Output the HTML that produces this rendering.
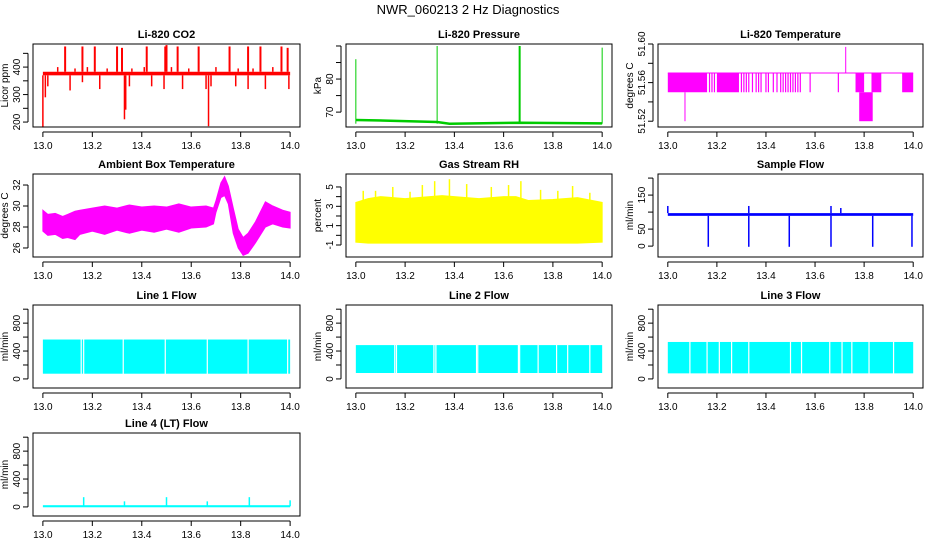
<!DOCTYPE html>
<html><head><meta charset="utf-8"><style>
body{margin:0;background:#fff}
svg{display:block;font-family:"Liberation Sans",sans-serif}
</style></head><body>
<svg id="c" width="936" height="540" viewBox="0 0 936 540">
<text x="468" y="14" font-size="13" text-anchor="middle">NWR_060213  2 Hz Diagnostics</text>
</svg>
<script>
// ---- data ----
const xTicks=[13.0,13.2,13.4,13.6,13.8,14.0];
const xTickLabels=["13.0","13.2","13.4","13.6","13.8","14.0"];
// CO2
const co2Base=[370,383];
const co2UpX=[13.09,13.16,13.21,13.30,13.32,13.42,13.495,13.50,13.545,13.63,13.755,13.83,13.88,13.965,13.99];
const co2UpY=[475,475,475,475,470,475,475,480,475,475,475,475,475,475,470];
const co2SmX=[13.06,13.13,13.18,13.26,13.36,13.41,13.52,13.59,13.7,13.79,13.85,13.93];
const co2SmY=[400,395,400,395,395,400,400,395,400,395,395,400];
const co2DnX=[13.0,13.01,13.02,13.11,13.16,13.23,13.33,13.335,13.35,13.44,13.49,13.565,13.66,13.67,13.68,13.78,13.83,13.9,13.995];
const co2DnY=[180,290,330,315,345,320,210,245,330,330,320,320,320,185,330,330,320,320,320];
// Pressure
const presX=[13.0,13.33,13.665,14.0];
const presTop=[86,90,90,89.5];
const presBaseX=[13.0,13.14,13.33,13.38,13.665,14.0];
const presBaseY=[67.6,67.4,67.0,66.5,66.8,66.6];
// Li-820 temperature
const tempHi=51.57, tempLo=51.55;
const tempBlocks=[[13.0,13.16],[13.2,13.29],[13.765,13.80],[13.83,13.87],[13.955,14.0]];
const tempLines=[13.17,13.18,13.19,13.30,13.31,13.32,13.33,13.345,13.36,13.37,13.38,13.40,13.41,13.43,13.445,13.46,13.47,13.48,13.49,13.50,13.51,13.52,13.53,13.54,13.58,13.695];
const tempDeep=[13.78,13.835,51.52];
const tempSpikes=[[13.07,51.55,51.52],[13.725,51.57,51.597]];
// Ambient box temperature (band)
const ambX=[13.0,13.02,13.05,13.08,13.1,13.13,13.15,13.2,13.25,13.3,13.35,13.4,13.45,13.5,13.55,13.6,13.66,13.69,13.70,13.72,13.735,13.75,13.77,13.79,13.81,13.83,13.86,13.9,13.93,13.97,14.0];
const ambLo=[27.6,27.2,27.3,26.9,27.0,26.8,27.3,27.6,27.3,27.7,27.4,27.7,27.5,27.8,27.5,27.9,28.0,28.3,29.4,30.8,31.0,30.2,27.4,26.0,25.3,25.5,26.5,28.0,28.3,28.0,27.9];
const ambHi=[29.6,29.2,29.3,29.0,29.2,29.5,29.6,29.8,30.0,29.8,30.1,29.9,30.0,29.9,30.2,29.9,30.0,29.8,30.5,32.2,32.8,31.9,29.8,27.8,27.0,27.4,28.5,30.4,30.0,29.6,29.4];
// Gas stream RH
const rhX=[13.0,13.05,13.1,13.2,13.3,13.35,13.4,13.5,13.6,13.65,13.7,13.8,13.9,14.0];
const rhLo=[-0.7,-0.8,-0.8,-0.8,-0.8,-0.8,-0.8,-0.8,-0.8,-0.8,-0.8,-0.8,-0.8,-0.7];
const rhHi=[3.4,3.8,4.0,3.8,4.0,4.1,4.0,3.8,4.0,4.0,3.6,3.7,3.9,3.4];
const rhSpX=[13.03,13.08,13.15,13.22,13.27,13.32,13.38,13.45,13.55,13.62,13.67,13.75,13.82,13.88,13.95];
const rhSpY=[4.6,4.6,5.0,4.5,5.2,5.6,5.8,5.3,5.0,5.2,5.6,4.7,4.6,5.1,4.4];
// Sample flow
const sfBase=[89,97];
const sfDipX=[13.165,13.33,13.495,13.665,13.835,13.995];
const sfDipY=[-2,-2,-2,-2,-2,-2];
const sfUpX=[13.0,13.33,13.665,13.705];
const sfUpY=[118,118,118,112];
// Line flows
const l1Band=[75,565], l2Band=[85,485], l3Band=[80,530];
const l1Gaps=[13.155,13.165,13.325,13.495,13.665,13.83,13.99];
const l2Gaps=[13.158,13.165,13.317,13.325,13.49,13.495,13.66,13.665,13.74,13.815,13.86,13.95];
const l3Gaps=[13.09,13.16,13.21,13.26,13.33,13.5,13.545,13.66,13.71,13.75,13.82,13.92];
const l4Base=10;
const l4SpX=[13.165,13.33,13.5,13.665,13.835,14.0];
const l4SpY=[140,80,140,80,140,95];

const S=document.getElementById('c');
const NS='http://www.w3.org/2000/svg';
function mk(t,a,p){const e=document.createElementNS(NS,t);for(const k in a)e.setAttribute(k,a[k]);(p||S).appendChild(e);return e;}
const cols=[[33,300],[346,612],[658,923]];
const rows=[[44,127],[174,257],[305,388],[433,516]];
function panel(c,r,title,ylab,ylim,yt,ytl,name){
  const [L,R]=cols[c],[T,B]=rows[r];
  const g=mk('g',{});
  
  
  const x0=L+(R-L)*0.037,x1=R-(R-L)*0.037;
  const X=v=>x0+(v-13)*(x1-x0);
  const Y=v=>B-(v-ylim[0])/(ylim[1]-ylim[0])*(B-T);
  const t=mk('text',{x:(L+R)/2,y:T-6,'font-size':11,'font-weight':'bold','text-anchor':'middle'},g);t.textContent=title;
  
  const plot=mk('g',{},g);
  
  const ax=mk('g',{},g);
  
  mk('rect',{x:L,y:T,width:R-L,height:B-T,fill:'none',stroke:'#000','stroke-width':1},ax);
  mk('line',{x1:X(13),x2:X(14),y1:B+5,y2:B+5,stroke:'#000'},ax);
  xTicks.forEach((v,i)=>{mk('line',{x1:X(v),x2:X(v),y1:B+5,y2:B+10,stroke:'#000'},ax);
    const tt=mk('text',{x:X(v),y:B+22,'font-size':10,'text-anchor':'middle'},ax);tt.textContent=xTickLabels[i];});
  mk('line',{x1:L-5,x2:L-5,y1:Y(yt[0]),y2:Y(yt[yt.length-1]),stroke:'#000'},ax);
  yt.forEach((v,i)=>{mk('line',{x1:L-5,x2:L-10,y1:Y(v),y2:Y(v),stroke:'#000'},ax);
    if(ytl[i]){const tt=mk('text',{x:0,y:0,'font-size':10,'text-anchor':'middle',transform:`translate(${L-13},${Y(v)}) rotate(-90)`},ax);tt.textContent=ytl[i];}});
  const yl=mk('text',{x:0,y:0,'font-size':10,'text-anchor':'middle',transform:`translate(${L-25},${(T+B)/2}) rotate(-90)`},ax);yl.textContent=ylab;
  
  return {X,Y,g:plot};
}
function seg(p,x,a,b,col,w){mk('line',{x1:p.X(x),x2:p.X(x),y1:p.Y(a),y2:p.Y(b),stroke:col,'stroke-width':w||1},p.g);}
function band(p,xs,lo,hi,col){let d='';xs.forEach((x,i)=>d+=(i?'L':'M')+p.X(x)+' '+p.Y(hi[i]));for(let i=xs.length-1;i>=0;i--)d+='L'+p.X(xs[i])+' '+p.Y(lo[i]);mk('path',{d:d+'Z',fill:col,stroke:col},p.g);}
function rect(p,xa,xb,ya,yb,col){mk('rect',{x:p.X(xa),y:p.Y(yb),width:p.X(xb)-p.X(xa),height:p.Y(ya)-p.Y(yb),fill:col},p.g);}

// CO2
let p=panel(0,0,'Li-820 CO2','Licor ppm',[182,484],[200,250,300,350,400,450],['200','','300','','400',''],'co2');
rect(p,13,14,co2Base[0],co2Base[1],'#f00');
co2UpX.forEach((x,i)=>seg(p,x,co2Base[1],co2UpY[i],'#f00',2));
co2SmX.forEach((x,i)=>seg(p,x,co2Base[1],co2SmY[i],'#f00',1.5));
co2DnX.forEach((x,i)=>seg(p,x,co2Base[0],co2DnY[i],'#f00',1.5));
// Pressure
p=panel(1,0,'Li-820 Pressure','kPa',[65.5,90.6],[70,75,80,85,90],['70','','80','',''],'pressure');
{let d='';presBaseX.forEach((x,i)=>d+=(i?'L':'M')+p.X(x)+' '+p.Y(presBaseY[i]));mk('path',{d,fill:'none',stroke:'#0c0','stroke-width':2.5},p.g);}
presX.forEach((x,i)=>seg(p,x,66.5,presTop[i],'#0c0',i==2?2:1));
// Temperature
p=panel(2,0,'Li-820 Temperature','degrees C',[51.514,51.600],[51.52,51.54,51.56,51.58,51.60],['51.52','','51.56','','51.60'],'li820-temp');
mk('line',{x1:p.X(13),x2:p.X(14),y1:p.Y(tempHi),y2:p.Y(tempHi),stroke:'#f0f'},p.g);
tempBlocks.forEach(b=>rect(p,b[0],b[1],tempLo,tempHi,'#f0f'));
tempLines.forEach(x=>seg(p,x,tempLo,tempHi,'#f0f',1.2));
rect(p,tempDeep[0],tempDeep[1],tempDeep[2],tempLo,'#f0f');
tempSpikes.forEach(s=>seg(p,s[0],s[1],s[2],'#f0f'));
// Ambient
p=panel(0,1,'Ambient Box Temperature','degrees C',[25.14,33.05],[26,28,30,32],['26','28','30','32'],'ambient-temp');
band(p,ambX,ambLo,ambHi,'#f0f');
// RH
p=panel(1,1,'Gas Stream RH','percent',[-2.24,6.34],[-1,0,1,2,3,4,5],['-1','','1','','3','','5'],'gas-rh');
band(p,rhX,rhLo,rhHi,'#ff0');
rhSpX.forEach((x,i)=>seg(p,x,3,rhSpY[i],'#ff0',1.5));
// Sample flow
p=panel(2,1,'Sample Flow','ml/min',[-32,212],[0,50,100,150,200],['0','50','','150',''],'sample-flow');
rect(p,13,14,sfBase[0],sfBase[1],'#00f');
sfDipX.forEach((x,i)=>seg(p,x,sfBase[0],sfDipY[i],'#00f',1.5));
sfUpX.forEach((x,i)=>seg(p,x,sfBase[1],sfUpY[i],'#00f',1.5));
// Line flows
const fy=[-130,1060],ft=[0,200,400,600,800,1000],ftl=['0','','400','','800',''];
[[0,'Line 1 Flow',l1Band,l1Gaps,'line1-flow'],[1,'Line 2 Flow',l2Band,l2Gaps,'line2-flow'],[2,'Line 3 Flow',l3Band,l3Gaps,'line3-flow']].forEach(a=>{
  const q=panel(a[0],2,a[1],'ml/min',fy,ft,ftl,a[4]);
  rect(q,13,14,a[2][0],a[2][1],'#0ff');
  a[3].forEach(x=>seg(q,x,a[2][0]-5,a[2][1]+5,'#fff',1.2));
});
p=panel(0,3,'Line 4 (LT) Flow','ml/min',fy,ft,ftl,'line4-flow');
rect(p,13,14,l4Base-15,l4Base+15,'#0ff');
l4SpX.forEach((x,i)=>seg(p,x,l4Base,l4SpY[i],'#0ff',1.5));
</script>
</body></html>
